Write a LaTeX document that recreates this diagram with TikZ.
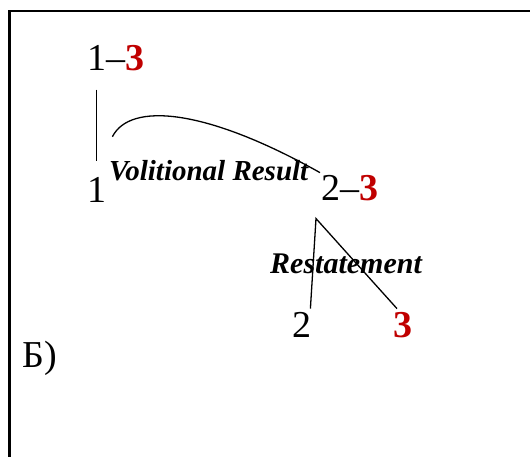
\documentclass[tikz,border=0pt]{standalone}
\usepackage{fontspec}
\setmainfont{Liberation Serif}
\definecolor{accent}{RGB}{192,0,0}
\newcommand{\hi}[1]{\textcolor{accent}{\textbf{#1}}}

\begin{document}
\begin{tikzpicture}[x=1pt, y=-1pt,
    unit/.style={inner sep=0pt, anchor=base west, font=\fontsize{38}{40}\selectfont},
    relname/.style={inner sep=0pt, anchor=base west, font=\fontsize{29}{31}\selectfont\bfseries\itshape},
    link/.style={line width=1.3pt}]
    \useasboundingbox (0,0) rectangle (530,457);
    \draw[line width=2.2pt] (9.5,457) -- (9.5,11) -- (530,11);

    \node[unit] (top) at (87,71) {1--\hi{3}};
    \node[unit] (one) at (87,203) {1};
    \node[unit] (pair) at (321,201) {2--\hi{3}};
    \node[unit] (two) at (292,337) {2};
    \node[unit] (three) at (393,337) {\hi{3}};
    \node[unit] (tag) at (22,367) {Б)};

    \node[relname] (vr) at (109,181) {Volitional Result};
    \node[relname, font=\fontsize{30}{32}\selectfont\bfseries\itshape] (rs) at (270,273) {Restatement};

    \coordinate (arcA) at ([shift={(6pt,41pt)}]one.north east);
    \coordinate (arcB) at ([shift={(-1pt,3pt)}]pair.north west);
    \coordinate (apex) at ([shift={(-5pt,-17pt)}]pair.south west);

    \draw[link, shorten <=18pt, shorten >=17pt] (one.north |- top.south) -- (one.north);
    \draw[link] (arcA) .. controls (130,102) and (205,108) .. (arcB);
    \draw[link] ([shift={(-1pt,3pt)}]two.north east) -- (apex) -- ([shift={(4pt,3pt)}]three.north west);
\end{tikzpicture}
\end{document}
